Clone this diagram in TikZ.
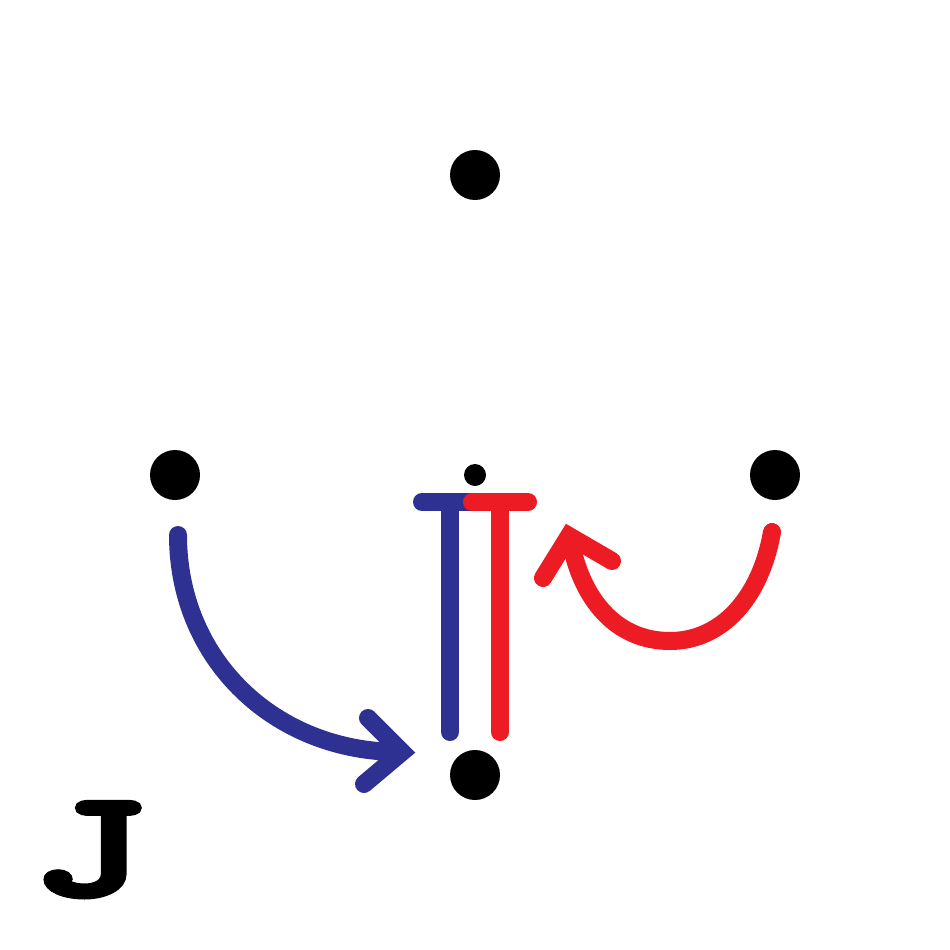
\documentclass[tikz,border=0pt]{standalone}
\usepackage{fontspec}
\usepackage{graphicx}
\newfontfamily\jfont[FakeBold=5]{Latin Modern Mono}
\definecolor{tblue}{HTML}{2E3192}
\definecolor{tred}{HTML}{ED1C24}
\begin{document}
\begin{tikzpicture}[x=1pt,y=-1pt,
  dot/.style={circle,fill=black,inner sep=0pt,minimum size=50pt},
  smalldot/.style={circle,fill=black,inner sep=0pt,minimum size=22pt},
  bar/.style={line width=18pt,line cap=round},
  arc/.style={line width=18pt,line cap=round},
  tip/.style={line width=18pt,line cap=round,line join=miter}]
\useasboundingbox[fill=white] (0,0) rectangle (950,950);
\node[dot] (top) at (475,175) {};
\node[dot] (left) at (175,475) {};
\node[dot] (right) at (775,475) {};
\node[dot] (bottom) at (475,775) {};
\node[smalldot] (center) at (475,475) {};
% T bars
\coordinate (bl) at (422,502);
\coordinate (br) at (470,502);
\coordinate (bt) at (450,502);
\coordinate (bb) at (450,732);
\coordinate (rl) at (472,502);
\coordinate (rr) at (528,502);
\coordinate (rt) at (500,502);
\coordinate (rb) at (500,732);
\draw[bar,tblue] (bl) -- (br);
\draw[bar,tblue] (bt) -- (bb);
\draw[bar,tred] (rl) -- (rr);
\draw[bar,tred] (rt) -- (rb);
% blue arc
\coordinate (bs) at (178,535);
\coordinate (be) at (400,752);
\draw[arc,tblue] (bs) .. controls (178,660) and (275,752) .. (be);
\coordinate (ba1) at (368,718);
\coordinate (ba2) at (364,784);
\coordinate (bv) at (402,752);
\draw[tip,tblue] (ba1) -- (bv) -- (ba2);
% red arc
\coordinate (rs) at (772,532);
\coordinate (rm) at (670,641);
\coordinate (re) at (572,548);
\draw[arc,tred] (rs) .. controls (760,600) and (720,641) .. (rm)
  .. controls (620,641) and (585,605) .. (re);
\coordinate (ra1) at (543,578);
\coordinate (ra2) at (612,561);
\coordinate (rv) at (569,536);
\draw[tip,tred] (ra1) -- (rv) -- (ra2);
% letter
\node[inner sep=0pt,anchor=base west] (J) at (32,894) {\scalebox{1.5}[1]{\fontsize{148}{148}\selectfont\jfont J}};
\end{tikzpicture}
\end{document}
